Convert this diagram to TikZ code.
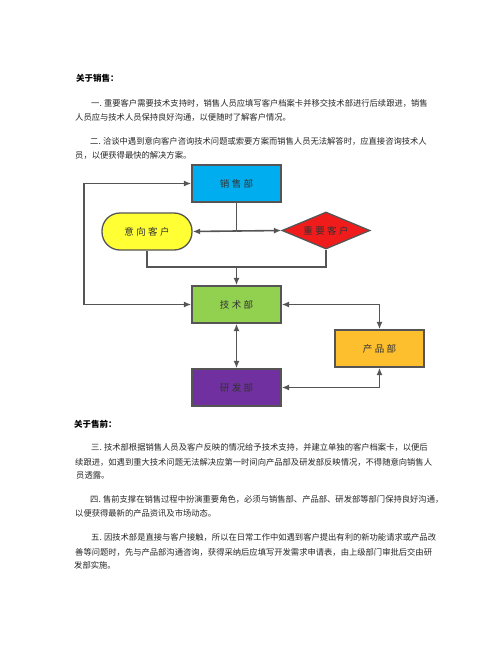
\documentclass[tikz,border=0pt]{standalone}
\usepackage{fontspec}
\usetikzlibrary{shapes.geometric,arrows.meta}

\newfontfamily\cjk{Noto Sans CJK SC}
\newfontfamily\cjkwide{Noto Sans CJK SC}[LetterSpace=25]

%% glue between ideographs so that full lines can be justified
\XeTeXinterchartokenstate=1
\XeTeXinterchartoks 1 1 = {\hskip 0pt plus 1pt}
\XeTeXinterchartoks 1 3 = {\hskip 0pt plus 1pt}
\XeTeXinterchartoks 3 1 = {\hskip 0pt plus 1pt}
\XeTeXinterchartoks 0 1 = {\hskip 0pt plus 1pt}
\XeTeXinterchartoks 1 0 = {\hskip 0pt plus 1pt}
\newcommand{\jline}[2]{\hbox to #1{#2}}

\definecolor{salesblue}{HTML}{00AEEF}
\definecolor{leadyellow}{HTML}{FFFF33}
\definecolor{keyred}{HTML}{F01C1C}
\definecolor{techgreen}{HTML}{92D050}
\definecolor{prodorange}{HTML}{FDBF2D}
\definecolor{rdpurple}{HTML}{7030A0}
\definecolor{edgegray}{HTML}{555555}

\begin{document}
\begin{tikzpicture}[x=1pt,y=-1pt,
  dept/.style={draw=edgegray, line width=1.3pt, minimum width=89pt, minimum height=37pt,
    inner sep=0pt, font=\cjkwide\fontsize{9.5}{10}\selectfont, text=black!80},
  link/.style={draw=edgegray, line width=1.6pt},
  >={Latex[length=7.5pt,width=6pt]},
  para/.style={anchor=west, inner sep=0pt, font=\cjk\fontsize{8.3}{10}\selectfont, text=black!85},
  head/.style={para, font=\cjk\bfseries\fontsize{8.5}{10}\selectfont, text=black}]

\useasboundingbox (0,0) rectangle (502,649);

%% text above the chart
\node[head] (h1) at (76,78) {关于销售：};
\node[para] (p1a) at (91,103) {\jline{332pt}{一. 重要客户需要技术支持时，销售人员应填写客户档案卡并移交技术部进行后续跟进，销售}};
\node[para] (p1b) at (75,117) {人员应与技术人员保持良好沟通，以便随时了解客户情况。};
\node[para] (p2a) at (90,141) {\jline{333pt}{二. 洽谈中遇到意向客户咨询技术问题或索要方案而销售人员无法解答时，应直接咨询技术人}};
\node[para] (p2b) at (75,155) {员，以便获得最快的解决方案。};

%% the chart
\node[dept, fill=salesblue] (sales) at (236.5,183.5) {销售部};
\node[dept, fill=leadyellow, rounded corners=18pt, minimum width=90pt] (lead) at (147,231.5) {意向客户};
\node[draw=edgegray, line width=1.3pt, fill=keyred, diamond, aspect=2.4, minimum width=88pt,
  minimum height=37pt, inner sep=0pt, font=\cjkwide\fontsize{9.5}{10}\selectfont, text=black!80]
  (key) at (326,230.5) {重要客户};
\node[dept, fill=techgreen] (tech) at (236.5,304.5) {技术部};
\node[dept, fill=prodorange] (prod) at (379.5,348.5) {产品部};
\node[dept, fill=rdpurple] (rd) at (236.5,387.5) {研发部};

\coordinate (fork) at (236.5,231);
\coordinate (merge) at (236.5,267);
\coordinate (loop) at (84,240);

%% sales splits to the two kinds of customers
\draw[link] (sales.south) -- (fork);
\draw[link,->] (fork) -- (lead.east);
\draw[link,->] (fork) -- (key.west);

%% both go to tech
\draw[link] (lead.south) |- (merge) -| (key.south);
\draw[link,->] (merge) -- (tech.north);

%% loop on the left
\draw[link,<->] (sales.west) -| (loop) |- (tech.west);

%% tech, product and R&D
\draw[link,<->] (tech.south) -- (rd.north);
\draw[link,<->] (tech.east) -| (prod.north);
\draw[link,<->] (rd.east) -| (prod.south);

%% text below the chart
\node[head] (h2) at (74,424) {关于售前：};
\node[para] (p3a) at (91,447) {\jline{332pt}{三. 技术部根据销售人员及客户反映的情况给予技术支持，并建立单独的客户档案卡，以便后}};
\node[para] (p3b) at (75,462) {\jline{348pt}{续跟进，如遇到重大技术问题无法解决应第一时间向产品部及研发部反映情况，不得随意向销售人}};
\node[para] (p3c) at (76,475) {员透露。};
\node[para] (p4a) at (90,499) {\jline{333pt}{四. 售前支撑在销售过程中扮演重要角色，必须与销售部、产品部、研发部等部门保持良好沟通，}};
\node[para] (p4b) at (75,513) {以便获得最新的产品资讯及市场动态。};
\node[para] (p5a) at (91,537) {\jline{333pt}{五. 因技术部是直接与客户接触，所以在日常工作中如遇到客户提出有利的新功能请求或产品改}};
\node[para] (p5b) at (75,552) {\jline{349pt}{善等问题时，先与产品部沟通咨询，获得采纳后应填写开发需求申请表，由上级部门审批后交由研}};
\node[para] (p5c) at (74,565) {发部实施。};

\end{tikzpicture}
\end{document}
